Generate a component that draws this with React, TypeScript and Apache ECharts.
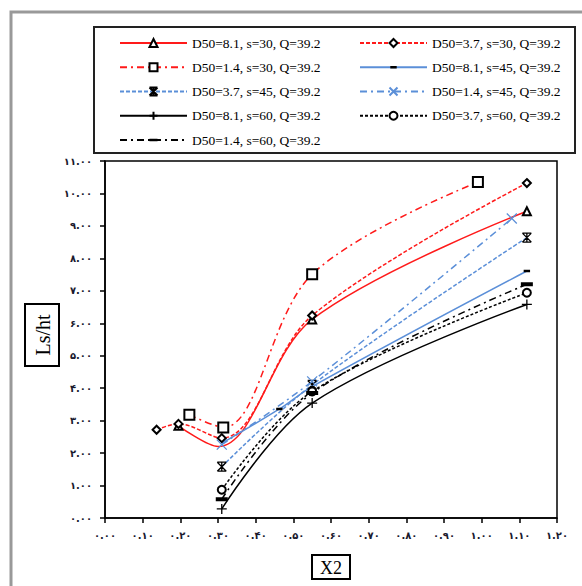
import React, { useEffect, useRef } from "react";
import * as echarts from "echarts";

const names = [
  "D50=8.1, s=30, Q=39.2",
  "D50=3.7, s=30, Q=39.2",
  "D50=1.4, s=30, Q=39.2",
  "D50=8.1, s=45, Q=39.2",
  "D50=3.7, s=45, Q=39.2",
  "D50=1.4, s=45, Q=39.2",
  "D50=8.1, s=60, Q=39.2",
  "D50=3.7, s=60, Q=39.2",
  "D50=1.4, s=60, Q=39.2",
];

const x_81_30 = [0.195, 0.3, 0.55, 1.12];
const y_81_30 = [2.84, 2.2, 6.12, 9.45];
const x_37_30 = [0.137, 0.195, 0.31, 0.55, 1.12];
const y_37_30 = [2.72, 2.9, 2.46, 6.24, 10.32];
const x_14_30 = [0.224, 0.314, 0.55, 0.99];
const y_14_30 = [3.18, 2.79, 7.51, 10.35];
const x_81_45 = [0.31, 0.463, 0.55, 1.12];
const y_81_45 = [2.3, 3.36, 4.05, 7.61];
const x_37_45 = [0.31, 0.55, 1.12];
const y_37_45 = [1.58, 4.1, 8.64];
const x_14_45 = [0.31, 0.55, 1.08];
const y_14_45 = [2.26, 4.21, 9.23];
const x_81_60 = [0.31, 0.55, 1.12];
const y_81_60 = [0.28, 3.54, 6.58];
const x_37_60 = [0.31, 0.55, 1.12];
const y_37_60 = [0.87, 3.9, 6.94];
const x_14_60 = [0.31, 0.55, 1.12];
const y_14_60 = [0.58, 3.85, 7.2];

const xs = [x_81_30, x_37_30, x_14_30, x_81_45, x_37_45, x_14_45, x_81_60, x_37_60, x_14_60];
const ys = [y_81_30, y_37_30, y_14_30, y_81_45, y_37_45, y_14_45, y_81_60, y_37_60, y_14_60];
// markers hidden under other marks in the reference: [series index, point index]
const hiddenMarks = [[0, 1], [3, 0], [3, 2]];

const RED = "#ff1a1a";
const BLUE = "#5b8fd8";
const BLACK = "#000000";
const DASHDOT = [7, 4, 2, 4];

const SMALL_BAR = "path://M0,0L0.01,0L0,0.01ZM1,3.5L9,3.5L9,6.5L1,6.5ZM10,10L9.99,10L10,9.99Z";
const THICK_BAR = "path://M0,0L0.01,0L0,0.01ZM0,4L12,4L12,8L0,8ZM12,12L11.99,12L12,11.99Z";

const styles: any[] = [
  { color: RED, type: "solid", symbol: "emptyTriangle", size: 8, kind: "empty" },
  { color: RED, type: [4, 2], symbol: "emptyDiamond", size: 8, kind: "empty" },
  { color: RED, type: DASHDOT, symbol: "emptyRect", size: 10, kind: "empty" },
  { color: BLUE, type: "solid", symbol: SMALL_BAR, size: 8, kind: "fill", mColor: "#000" },
  { color: BLUE, type: [4, 2], symbol: "path://M0,0L10,10M10,0L0,10M5,0L5,10M0,0L10,0M0,10L10,10", size: 9, kind: "path", mColor: "#000" },
  { color: BLUE, type: DASHDOT, symbol: "path://M0,0L10,10M10,0L0,10", size: 10, kind: "path", mColor: BLUE },
  { color: BLACK, type: "solid", symbol: "path://M5,0L5,10M0,5L10,5", size: 10, kind: "path", mColor: "#000" },
  { color: BLACK, type: [3, 2], symbol: "emptyCircle", size: 8, kind: "empty" },
  { color: BLACK, type: DASHDOT, symbol: THICK_BAR, size: 12, kind: "fill", mColor: "#000" },
];

const persian = "۰۱۲۳۴۵۶۷۸۹";
const toFa = (v: number) =>
  v.toFixed(2).replace(/[0-9]/g, (d) => persian[Number(d)]);

export default function App() {
  const ref = useRef<HTMLDivElement>(null);
  useEffect(() => {
    if (!ref.current) return;
    const chart = echarts.init(ref.current, undefined, { renderer: "svg" });
    const series = names.map((name, i) => {
      const s = styles[i];
      let itemStyle: any;
      if (s.kind === "empty") itemStyle = { color: "#000", borderColor: "#000", borderWidth: 1.3 };
      else if (s.kind === "fill") itemStyle = { color: s.mColor, borderWidth: 0 };
      else itemStyle = { color: "none", borderColor: s.mColor, borderWidth: 1.3 };
      return {
        name,
        type: "line",
        smooth: 0.35,
        data: xs[i].map((x, j) => {
          const hide = hiddenMarks.some(([a, b]) => a === i && b === j);
          return hide ? { value: [x, ys[i][j]], symbol: "none" } : [x, ys[i][j]];
        }),
        symbol: s.symbol,
        symbolSize: s.size,
        symbolKeepAspect: true,
        showAllSymbol: true,
        lineStyle: { color: s.color, width: 1.5, type: s.type },
        itemStyle,
        emphasis: { disabled: true },
        z: 2,
      };
    });
    const legendText = {
      fontFamily: "Liberation Serif, serif",
      fontSize: 13.5,
      color: "#000",
    };
    const labelStyle = {
      fontFamily: "DejaVu Sans",
      fontSize: 10,
      fontWeight: "bold" as const,
      color: "#1a1a2e",
    };
    const legendCommon = {
      orient: "vertical",
      top: 31,
      itemWidth: 67,
      itemHeight: 10,
      itemGap: 10.25,
      textStyle: legendText,
    };
    chart.setOption({
      animation: false,
      backgroundColor: "#fff",
      graphic: [
        {
          type: "rect",
          shape: { x: 11, y: 12, width: 620, height: 620 },
          style: { fill: "none", stroke: "#999", lineWidth: 3 },
          silent: true,
        },
        {
          type: "rect",
          shape: { x: 94, y: 27, width: 481, height: 126 },
          style: { fill: "none", stroke: "#222", lineWidth: 2 },
          silent: true,
        },
        {
          type: "rect",
          shape: { x: 25, y: 304, width: 34, height: 62 },
          style: { fill: "#fff", stroke: "#000", lineWidth: 2 },
          silent: true,
        },
        {
          type: "text",
          x: 43,
          y: 335,
          rotation: Math.PI / 2,
          style: {
            text: "Ls/ht",
            font: "20px 'Liberation Serif', serif",
            fill: "#000",
            align: "center",
            verticalAlign: "middle",
          },
          silent: true,
        },
      ],
      legend: [
        { ...legendCommon, left: 114, data: [names[0], names[2], names[4], names[6], names[8]] },
        { ...legendCommon, left: 354, data: [names[1], names[3], names[5], names[7]] },
      ],
      grid: { left: 105, right: 25, top: 161, bottom: 68, show: true, borderColor: "#000", borderWidth: 1.5 },
      xAxis: {
        type: "value",
        min: 0,
        max: 1.2,
        interval: 0.1,
        name: "X2",
        nameLocation: "middle",
        nameGap: 37,
        nameTextStyle: {
          fontFamily: "Liberation Serif, serif",
          fontSize: 18,
          color: "#000",
          borderColor: "#000",
          borderWidth: 2,
          padding: [4, 8, 2, 8],
        },
        axisLine: { lineStyle: { color: "#000", width: 1.5 } },
        axisTick: { lineStyle: { color: "#000", width: 1.5 }, length: 5 },
        axisLabel: { ...labelStyle, margin: 12, formatter: (v: number) => toFa(v) },
        splitLine: { show: false },
      },
      yAxis: {
        type: "value",
        min: 0,
        max: 11,
        interval: 1,
        axisLine: { show: true, lineStyle: { color: "#000", width: 1.5 } },
        axisTick: { show: true, lineStyle: { color: "#000", width: 1.5 }, length: 5 },
        axisLabel: { ...labelStyle, margin: 13, formatter: (v: number) => toFa(v) },
        splitLine: { show: false },
      },
      series,
    });
    return () => chart.dispose();
  }, []);
  return (
    <div
      ref={ref}
      style={{ position: "fixed", left: 0, top: 0, width: 582, height: 586 }}
    />
  );
}
